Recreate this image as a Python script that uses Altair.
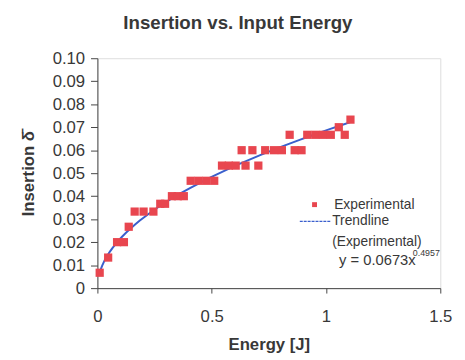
import altair as alt
import pandas as pd

energy = [0.01, 0.047, 0.086, 0.116, 0.137, 0.163, 0.202, 0.245, 0.275, 0.296,
          0.326, 0.352, 0.378, 0.408, 0.442, 0.476, 0.511, 0.545, 0.575, 0.605,
          0.631, 0.648, 0.678, 0.704, 0.734, 0.773, 0.807, 0.841, 0.863, 0.893,
          0.918, 0.953, 0.987, 1.021, 1.056, 1.082, 1.107]
insertion = [0.0067, 0.0133, 0.02, 0.02, 0.0267, 0.0333, 0.0333, 0.0333, 0.0367, 0.0367,
             0.04, 0.04, 0.04, 0.0467, 0.0467, 0.0467, 0.0467, 0.0533, 0.0533, 0.0533,
             0.06, 0.0533, 0.06, 0.0533, 0.06, 0.06, 0.06, 0.0667, 0.06, 0.06,
             0.0667, 0.0667, 0.0667, 0.0667, 0.07, 0.0667, 0.0733]

title_text = "Insertion vs. Input Energy"
x_title = "Energy [J]"
y_title = "Insertion \u03b4\u0304"
legend_labels = ["Experimental", "Trendline", "(Experimental)"]
formula_text = "y = 0.0673x"
formula_exp = "0.4957"

df = pd.DataFrame({"energy": energy, "insertion": insertion})

TXT = "#383838"
FONT = "Liberation Sans"

xs = alt.X("energy:Q", scale=alt.Scale(domain=[0, 1.5], nice=False),
           axis=alt.Axis(values=[0, 0.5, 1, 1.5], labelExpr="format(datum.value, '~g')",
                         title=x_title, grid=False,
                         tickSize=5, labelPadding=16, titlePadding=12,
                         labelFontSize=17, titleFontSize=17, titleFontWeight="bold",
                         labelFont=FONT, titleFont=FONT, labelColor=TXT, titleColor=TXT,
                         domainColor="#444", tickColor="#444", labelFlush=False))
ys = alt.Y("insertion:Q", scale=alt.Scale(domain=[0, 0.1], nice=False),
           axis=alt.Axis(values=[0, 0.01, 0.02, 0.03, 0.04, 0.05, 0.06, 0.07, 0.08, 0.09, 0.1],
                         labelExpr="datum.value == 0 ? '0' : format(datum.value, '.2f')",
                         title=y_title, grid=False, tickSize=7, labelPadding=6, titlePadding=15,
                         labelFontSize=17, titleFontSize=17, titleFontWeight="bold",
                         labelFont=FONT, titleFont=FONT, labelColor=TXT, titleColor=TXT,
                         domainColor="#444", tickColor="#444"))

base = alt.Chart(df)
points = base.mark_square(size=70, color="#e8464f", opacity=1).encode(x=xs, y=ys)
trend = base.transform_regression(
    "energy", "insertion", method="pow", extent=[0.01, 1.107]
).mark_line(color="#3a5fcd", strokeWidth=2).encode(x=xs, y=ys)

ann = pd.DataFrame({"d": [0]})
a = alt.Chart(ann)
title_mark = a.mark_text(text=title_text, font=FONT, fontSize=19, fontWeight="bold",
                         color=TXT, baseline="middle", align="center").encode(
    x=alt.value(143), y=alt.value(-36))
leg_sq = a.mark_square(size=25, color="#e8464f", opacity=1).encode(x=alt.value(221), y=alt.value(149))
leg_t1 = a.mark_text(text=legend_labels[0], font=FONT, fontSize=14, color=TXT,
                     align="left", baseline="middle").encode(x=alt.value(241), y=alt.value(149))
leg_line = a.mark_rule(color="#3a5fcd", strokeWidth=1.2, strokeDash=[3, 1]).encode(
    x=alt.value(206), x2=alt.value(238), y=alt.value(166))
leg_t2 = a.mark_text(text=legend_labels[1], font=FONT, fontSize=14, color=TXT,
                     align="left", baseline="middle").encode(x=alt.value(239), y=alt.value(166))
leg_t3 = a.mark_text(text=legend_labels[2], font=FONT, fontSize=14, color=TXT,
                     align="left", baseline="middle").encode(x=alt.value(239), y=alt.value(187))
leg_f = a.mark_text(text=formula_text, font=FONT, fontSize=15, color=TXT,
                    align="left", baseline="middle").encode(x=alt.value(246), y=alt.value(205))
leg_e = a.mark_text(text=formula_exp, font=FONT, fontSize=9, color=TXT,
                    align="left", baseline="middle").encode(x=alt.value(321), y=alt.value(198))

chart = alt.layer(trend, points, title_mark, leg_sq, leg_t1, leg_line, leg_t2, leg_t3, leg_f, leg_e
).properties(
    width=349, height=234,
    autosize=alt.AutoSizeParams(type="none"),
    padding={"left": 91, "top": 48, "right": 17, "bottom": 70},
).configure_view(stroke="#444", strokeWidth=1.5).configure(background="white")

chart.save("out.html", embed_options={"renderer": "svg", "actions": False})
